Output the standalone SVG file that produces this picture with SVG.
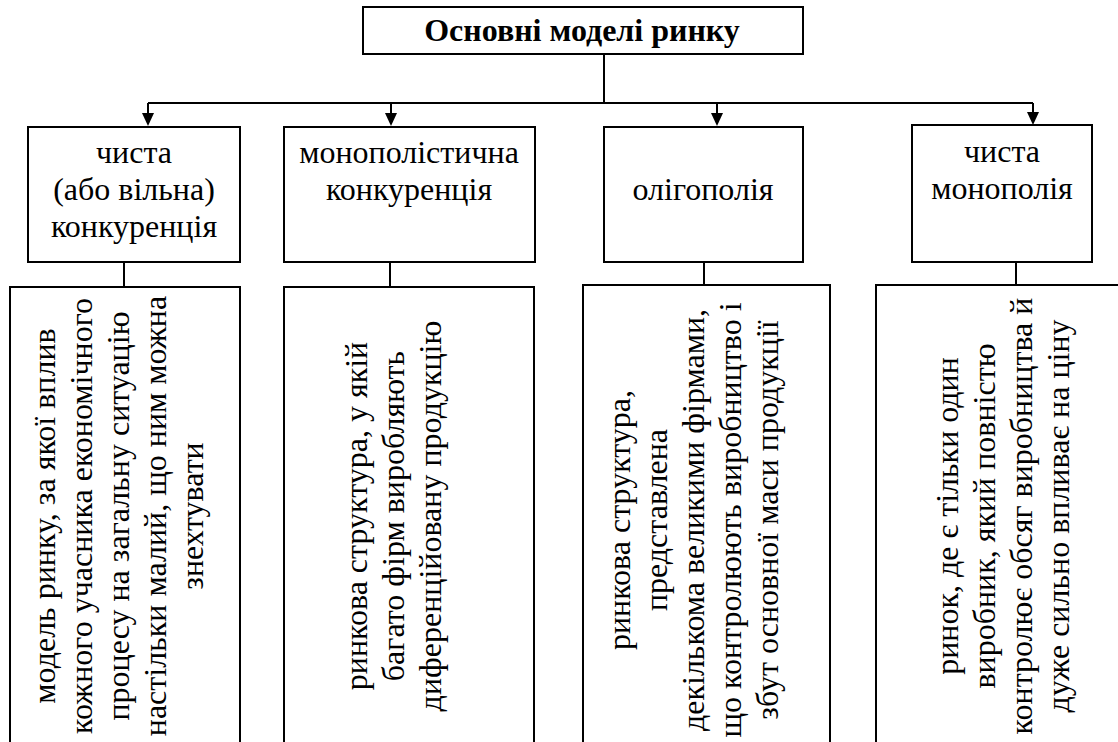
<svg xmlns="http://www.w3.org/2000/svg" width="1118" height="742" viewBox="0 0 1118 742">
  <defs>
    <style>
      .box { fill: #fff; stroke: #000; stroke-width: 2; }
      .line { fill: none; stroke: #000; stroke-width: 2; }
      .head { fill: #000; }
      .t { font-family: "Liberation Serif", "Times New Roman", serif; font-size: 32px; fill: #000; text-anchor: middle; }
      .title { font-family: "Liberation Serif", "Times New Roman", serif; font-size: 32px; font-weight: bold; fill: #000; text-anchor: middle; }
    </style>
  </defs>
  <rect width="1118" height="742" fill="#fff"/>

  <g id="connectors">
    <path class="line" d="M604,54 V103"/>
    <path class="line" d="M148,103 H1033"/>
    <path class="line" d="M148,103 V113"/>
    <path class="head" d="M142,113 L154,113 L148,126 Z"/>
    <path class="line" d="M391,103 V113"/>
    <path class="head" d="M385,113 L397,113 L391,126 Z"/>
    <path class="line" d="M717,103 V113"/>
    <path class="head" d="M711,113 L723,113 L717,126 Z"/>
    <path class="line" d="M1033,103 V112"/>
    <path class="head" d="M1027,112 L1039,112 L1033,125 Z"/>
    <path class="line" d="M124,262 V287"/>
    <path class="line" d="M390,262 V287"/>
    <path class="line" d="M704,262 V285"/>
    <path class="line" d="M1016,262 V285"/>
  </g>

  <g id="root">
    <rect class="box" x="363" y="7" width="440" height="47"/>
    <text class="title" x="582" y="41">Основні моделі ринку</text>
  </g>

  <g id="n1">
    <rect class="box" x="28" y="127" width="212" height="135"/>
    <text class="t" x="134" y="163">чиста</text>
    <text class="t" x="134" y="200">(або вільна)</text>
    <text class="t" x="134" y="237">конкуренція</text>
  </g>
  <g id="n2">
    <rect class="box" x="284" y="127" width="251" height="135"/>
    <text class="t" x="409" y="163">монополістична</text>
    <text class="t" x="409" y="200">конкуренція</text>
  </g>
  <g id="n3">
    <rect class="box" x="604" y="127" width="199" height="135"/>
    <text class="t" x="703" y="200">олігополія</text>
  </g>
  <g id="n4">
    <rect class="box" x="912" y="125" width="180" height="137"/>
    <text class="t" x="1002" y="162">чиста</text>
    <text class="t" x="1002" y="199">монополія</text>
  </g>

  <g id="d1">
    <rect class="box" x="10" y="287" width="230" height="470"/>
    <text class="t" transform="translate(55,516) rotate(-90)">модель ринку, за якої вплив</text>
    <text class="t" transform="translate(92,516) rotate(-90)">кожного учасника економічного</text>
    <text class="t" transform="translate(129,516) rotate(-90)">процесу на загальну ситуацію</text>
    <text class="t" transform="translate(166,516) rotate(-90)">настільки малий, що ним можна</text>
    <text class="t" transform="translate(203,516) rotate(-90)">знехтувати</text>
  </g>
  <g id="d2">
    <rect class="box" x="284" y="287" width="250" height="470"/>
    <text class="t" transform="translate(367,516) rotate(-90)">ринкова структура, у якій</text>
    <text class="t" transform="translate(404,516) rotate(-90)">багато фірм виробляють</text>
    <text class="t" transform="translate(441,516) rotate(-90)">диференційовану продукцію</text>
  </g>
  <g id="d3">
    <rect class="box" x="583" y="285" width="247" height="472"/>
    <text class="t" transform="translate(630,520) rotate(-90)">ринкова структура,</text>
    <text class="t" transform="translate(667,520) rotate(-90)">представлена</text>
    <text class="t" transform="translate(704,520) rotate(-90)">декількома великими фірмами,</text>
    <text class="t" transform="translate(741,520) rotate(-90)">що контролюють виробництво і</text>
    <text class="t" transform="translate(778,520) rotate(-90)">збут основної маси продукції</text>
  </g>
  <g id="d4">
    <rect class="box" x="876" y="285" width="260" height="472"/>
    <text class="t" transform="translate(958,516) rotate(-90)">ринок, де є тільки один</text>
    <text class="t" transform="translate(995,516) rotate(-90)">виробник, який повністю</text>
    <text class="t" transform="translate(1032,516) rotate(-90)">контролює обсяг виробництва й</text>
    <text class="t" transform="translate(1069,516) rotate(-90)">дуже сильно впливає на ціну</text>
  </g>
</svg>
